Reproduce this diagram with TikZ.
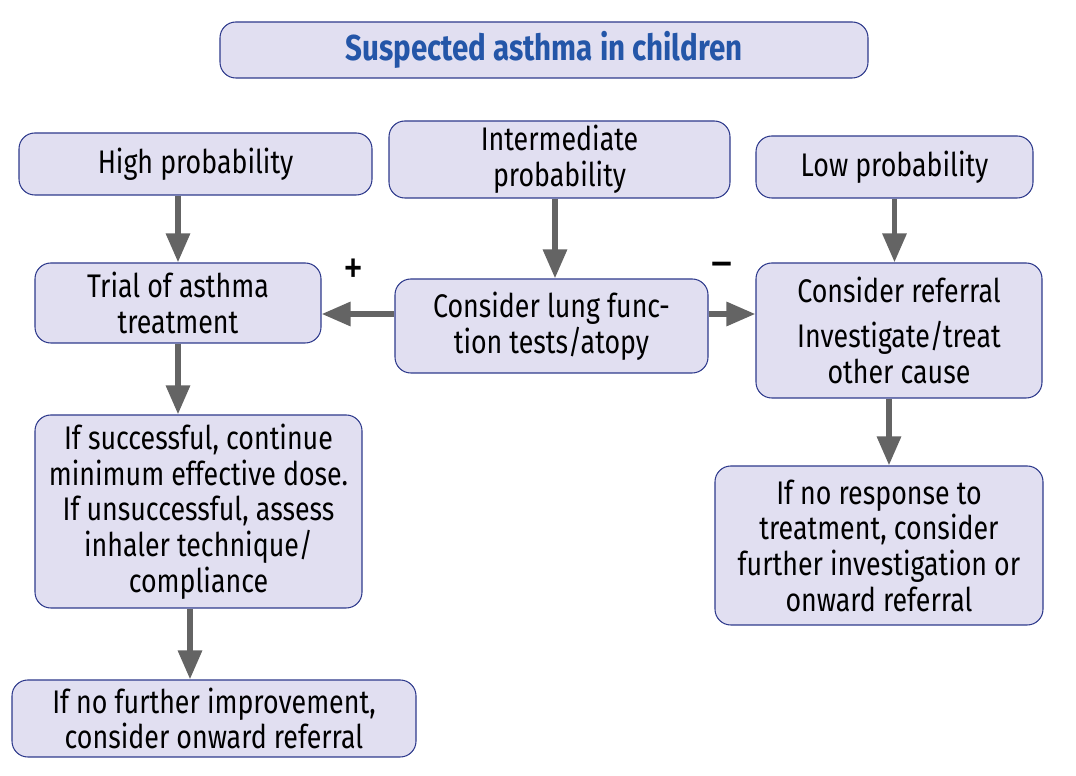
\documentclass[tikz,border=0pt]{standalone}
\usepackage{fontspec}
\setmainfont{Fira Sans}[FakeStretch=0.82]
\usepackage{tikz}
\usetikzlibrary{positioning, arrows.meta}
\definecolor{boxfill}{HTML}{E1DFF1}
\definecolor{boxline}{HTML}{2E3A8C}
\definecolor{arrowgray}{HTML}{646464}
\definecolor{titleblue}{HTML}{2456A8}
\tikzset{
  % --- flow chart boxes ---
  flowbox/.style={
    draw=boxline, fill=boxfill, line width=0.6pt, rounded corners=9pt,
    align=center, inner sep=2pt, font=\fontsize{18.6}{20.3}\selectfont,
  },
  titlebox/.style={flowbox, font=\fontsize{20.5}{22}\selectfont\bfseries,
    text=titleblue},
  % --- connectors ---
  flowarrow/.style={-{Triangle[length=5.8mm, width=4.6mm]},
    draw=arrowgray, fill=arrowgray, line width=3.4pt},
  signlabel/.style={font=\fontsize{28}{30}\selectfont, inner sep=0pt},
}

\begin{document}
\begin{tikzpicture}[x=0.02cm, y=-0.02cm]
    \useasboundingbox (0,0) rectangle (1076,776);

    % ---- Title ----
    \node[titlebox, minimum width=648*0.02cm, minimum height=56*0.02cm] (title) at (544,50)
      {Suspected asthma in children};

    % ---- Probability row ----
    \node[flowbox, minimum width=353*0.02cm, minimum height=62*0.02cm] (high) at (195.5,164)
      {High probability};
    \node[flowbox, minimum width=341*0.02cm, minimum height=77*0.02cm] (inter) at (559.5,159.5)
      {Intermediate\\probability};
    \node[flowbox, minimum width=277*0.02cm, minimum height=62*0.02cm] (low) at (894.5,167)
      {Low probability};

    % ---- Second row ----
    \node[flowbox, minimum width=286*0.02cm, minimum height=80*0.02cm] (trial) at (178,303)
      {Trial of asthma\\treatment};
    \node[flowbox, minimum width=313*0.02cm, minimum height=94*0.02cm] (lung) at (551.5,326)
      {Consider lung func-\\tion tests/atopy};
    \node[flowbox, minimum width=286*0.02cm, minimum height=135*0.02cm] (refer) at (899,330.5)
      {Consider referral\\[5pt]Investigate/treat\\other cause};

    % ---- Follow-up boxes ----
    \node[flowbox, minimum width=327*0.02cm, minimum height=193*0.02cm] (success) at (198.5,511.5)
      {If successful, continue\\minimum effective dose.\\If unsuccessful, assess\\inhaler technique/\\compliance};
    \node[flowbox, minimum width=328*0.02cm, minimum height=159*0.02cm] (noresp) at (879,545.5)
      {If no response to\\treatment, consider\\further investigation or\\onward referral};
    \node[flowbox, minimum width=404*0.02cm, minimum height=77*0.02cm] (further) at (214,718.5)
      {If no further improvement,\\consider onward referral};

    % ---- Connectors ----
    \draw[flowarrow] (high.south -| trial) -- (trial.north);
    \draw[flowarrow] (inter.south -| 555,0) -- (lung.north -| 555,0);
    \draw[flowarrow] (low.south) -- (low.south |- refer.north);
    \draw[flowarrow] (lung.west |- 0,314) -- (trial.east |- 0,314);
    \draw[flowarrow] (lung.east |- 0,314) -- (refer.west |- 0,314);
    \draw[flowarrow] (trial.south) -- (trial.south |- success.north);
    \draw[flowarrow] (refer.south -| 889,0) -- (noresp.north -| 889,0);
    \draw[flowarrow] (success.south -| 190,0) -- (further.north -| 190,0);

    % ---- Test outcome signs ----
    \node[signlabel] (plus) at (354,272) {+};
    \node[signlabel] (minus) at (722,271) {--};
  \end{tikzpicture}
\end{document}
